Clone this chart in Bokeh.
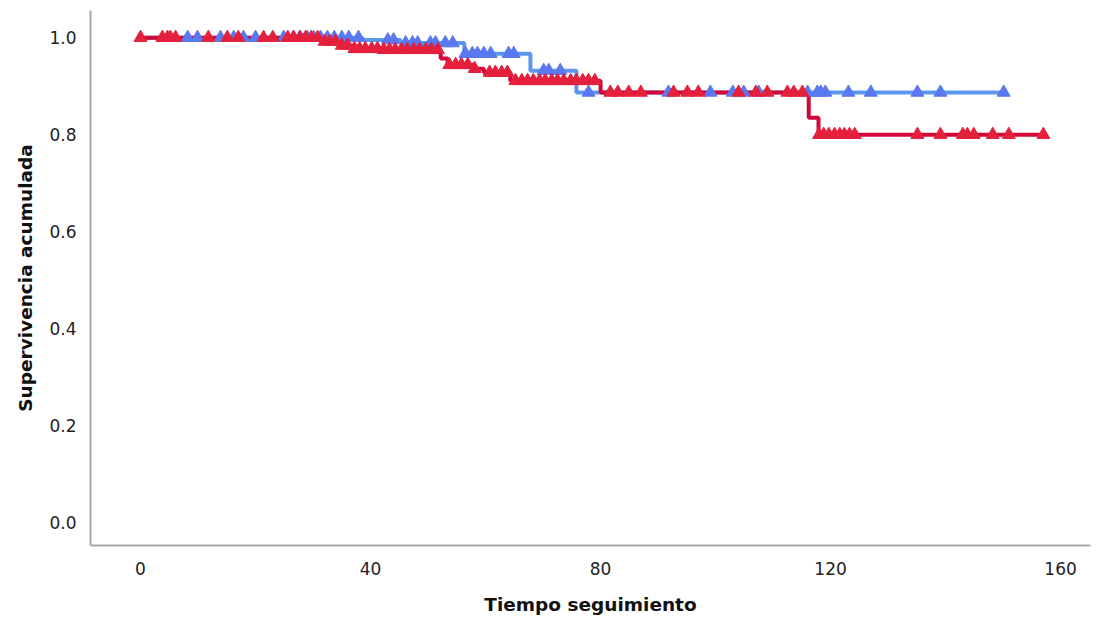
from bokeh.plotting import figure
from bokeh.models import FixedTicker, PrintfTickFormatter, Range1d
from bokeh.embed import file_html
from bokeh.resources import INLINE
import numpy as np

# Kaplan-Meier step data (time, cumulative survival)
blue_times = [0, 38.6, 45.2, 56.3, 67.8, 75.8, 150.4]
blue_surv = [1.0, 0.995, 0.989, 0.967, 0.932, 0.887, 0.887]

red_times = [0, 31.8, 35.0, 37.0, 41.7, 52.2, 53.4, 57.9, 59.7, 64.3, 80.0, 116.2, 117.9, 157.0]
red_surv = [1.0, 0.992, 0.984, 0.977, 0.975, 0.957, 0.944, 0.936, 0.928, 0.911, 0.887, 0.835, 0.80, 0.80]

# censored observations (times)
blue_censor = [8.2, 9.9, 13.9, 16.2, 17.9, 20.0, 24.9, 26.6, 27.8, 29.0, 30.1, 31.3, 32.5,
               33.7, 35.0, 36.2, 37.9, 43.0, 44.0, 46.1, 47.3, 48.2, 50.4, 51.3, 53.0, 54.3,
               56.5, 57.7, 58.6, 59.7, 60.9, 64.0, 64.9, 70.1, 71.0, 73.0, 77.9, 91.8, 99.1,
               103.0, 104.9, 107.5, 116.0, 117.7, 118.3, 119.1, 123.1, 127.0, 135.1, 139.1, 150.1]
red_censor = [0, 3.8, 4.7, 5.2, 6.1, 11.8, 15.1, 17.0, 21.4, 23.0,
              25.6, 26.6, 27.7, 28.7, 29.7, 30.8, 32.0, 32.9, 33.9, 35.0, 36.0,
              37.2, 38.1, 39.1, 40.2, 41.2, 42.3, 43.3, 44.3, 45.4, 46.4, 47.5, 48.5, 49.6,
              50.6, 51.7, 53.7, 54.8, 55.8, 56.9, 58.1, 60.7, 61.7, 62.8, 63.8,
              65.2, 66.3, 67.3, 68.3, 69.4, 70.4, 71.5, 72.5, 73.6, 74.8, 75.8, 76.9, 77.9, 79.0,
              81.7, 83.0, 84.9, 87.0, 92.7, 95.1, 97.0, 104.0, 107.0, 109.0, 112.5, 113.6, 115.1,
              118.0, 118.8, 119.7, 120.7, 121.6, 122.4, 123.3, 124.2, 135.1, 139.1, 143.0,
              143.8, 144.9, 148.2, 151.0, 157.0]

x_ticks = [0, 40, 80, 120, 160]
y_ticks = [0.0, 0.2, 0.4, 0.6, 0.8, 1.0]


def surv_at(times, surv, t):
    idx = np.searchsorted(np.array(times), t, side="right") - 1
    return [surv[i] for i in idx]


BLUE_LINE = "#5b97ec"
BLUE_MARK = "#5a78f0"
RED_LINE = "#d2083a"
RED_MARK = "#e4203c"

p = figure(width=1102, height=619, output_backend="svg", toolbar_location=None,
           x_range=Range1d(-8.7, 165.2), y_range=Range1d(-0.047, 1.056),
           min_border_left=90, min_border_right=12, min_border_top=10, min_border_bottom=74)

p.step(blue_times, blue_surv, mode="after", line_color=BLUE_LINE, line_width=4)
p.step(red_times, red_surv, mode="after", line_color=RED_LINE, line_width=4)

p.scatter(blue_censor, surv_at(blue_times, blue_surv, blue_censor), marker="triangle",
          size=13, fill_color=BLUE_MARK, line_color=BLUE_MARK, line_width=1)
p.scatter(red_censor, surv_at(red_times, red_surv, red_censor), marker="triangle",
          size=13, fill_color=RED_MARK, line_color=RED_MARK, line_width=1)

p.grid.visible = False
p.outline_line_color = None
p.background_fill_color = "white"
p.border_fill_color = "white"

for ax in (p.xaxis[0], p.yaxis[0]):
    ax.axis_line_color = "#a8a8a8"
    ax.axis_line_width = 2
    ax.major_tick_line_color = None
    ax.minor_tick_line_color = None
    ax.major_label_text_font = "DejaVu Sans"
    ax.major_label_text_font_size = "17px"
    ax.major_label_text_color = "#222222"
    ax.axis_label_text_font = "DejaVu Sans"
    ax.axis_label_text_font_style = "bold"
    ax.axis_label_text_font_size = "18.5px"
    ax.axis_label_text_color = "#111111"

p.xaxis.ticker = FixedTicker(ticks=x_ticks)
p.yaxis.ticker = FixedTicker(ticks=y_ticks)
p.yaxis.formatter = PrintfTickFormatter(format="%.1f")
p.xaxis.major_label_standoff = 10
p.yaxis.major_label_standoff = 8
p.xaxis.axis_label = "Tiempo seguimiento"
p.yaxis.axis_label = "Supervivencia acumulada"
p.xaxis.axis_label_standoff = 16
p.yaxis.axis_label_standoff = 10

open("out.html", "w").write(file_html(p, INLINE))
